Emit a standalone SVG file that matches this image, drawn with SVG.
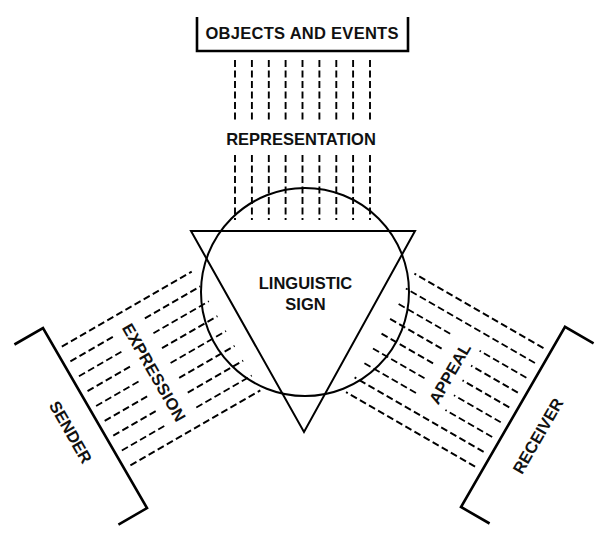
<svg xmlns="http://www.w3.org/2000/svg" width="602" height="534" viewBox="0 0 602 534">
<style>
.b{fill:none;stroke:#000;stroke-width:2.6;stroke-linejoin:miter}
.s{fill:none;stroke:#000;stroke-width:2}
.d{fill:none;stroke:#000;stroke-width:1.9;stroke-dasharray:7 3.5}
.t{font-family:"Liberation Sans",Arial,Helvetica,sans-serif;font-weight:bold;font-size:16.5px;fill:#111;text-anchor:middle}
</style>
<rect width="602" height="534" fill="#fff"/>
<g id="connectors">
  <g id="representation">
    <path class="d" d="M235,60V123M251.9,60V123M268.8,60V123M285.6,60V123M302.5,60V123M319.4,60V123M336.3,60V123M353.1,60V123M370,60V123"/>
    <path class="d" d="M235,155V220M251.9,155V220M268.8,155V220M285.6,155V220M302.5,155V220M319.4,155V220M336.3,155V220M353.1,155V220M370,155V220"/>
    <text class="t" x="301" y="145">REPRESENTATION</text>
  </g>
  <g id="expression" transform="translate(43,328) rotate(-30)">
    <path class="d" d="M7,25.5H157M7,162.7H157"/>
    <path class="d" d="M7,42.65H59M7,59.8H59M7,76.95H59M7,94.1H59M7,111.25H59M7,128.4H59M7,145.55H59"/>
    <path class="d" d="M93,42.65H157M93,59.8H157M93,76.95H157M93,94.1H157M93,111.25H157M93,128.4H157M93,145.55H157"/>
    <text class="t" transform="translate(74,94) rotate(90)" y="5.9" textLength="110" lengthAdjust="spacing">EXPRESSION</text>
  </g>
  <g id="appeal" transform="translate(461,507) rotate(210)">
    <path class="d" d="M8,42H157M8,59.1H157M8,161.7H157M8,178.8H157"/>
    <path class="d" d="M8,76.2H62M8,93.3H62M8,110.4H62M8,127.5H62M8,144.6H62"/>
    <path class="d" d="M96,76.2H157M96,93.3H157M96,110.4H157M96,127.5H157M96,144.6H157"/>
    <text class="t" transform="translate(76.5,110) rotate(90)" y="5.9">APPEAL</text>
  </g>
</g>
<g id="objects-and-events">
  <path class="b" d="M197,17V51H408V17"/>
  <text class="t" x="302" y="39" textLength="193" lengthAdjust="spacing">OBJECTS AND EVENTS</text>
</g>
<g id="linguistic-sign">
  <circle class="s" cx="305" cy="292" r="104"/>
  <path class="s" d="M191,231H415L304,432Z"/>
  <text class="t" x="305.5" y="289">LINGUISTIC</text>
  <text class="t" x="305.5" y="310">SIGN</text>
</g>
<g id="sender" transform="translate(43,328) rotate(-30)">
  <path class="b" d="M-33,0H0V208H-33"/>
  <text class="t" transform="translate(-28,104) rotate(90)" y="5.9">SENDER</text>
</g>
<g id="receiver" transform="translate(461,507) rotate(210)">
  <path class="b" d="M-33,0H0V208H-33"/>
  <text class="t" transform="translate(-31,100) rotate(90)" y="5.9">RECEIVER</text>
</g>
</svg>
